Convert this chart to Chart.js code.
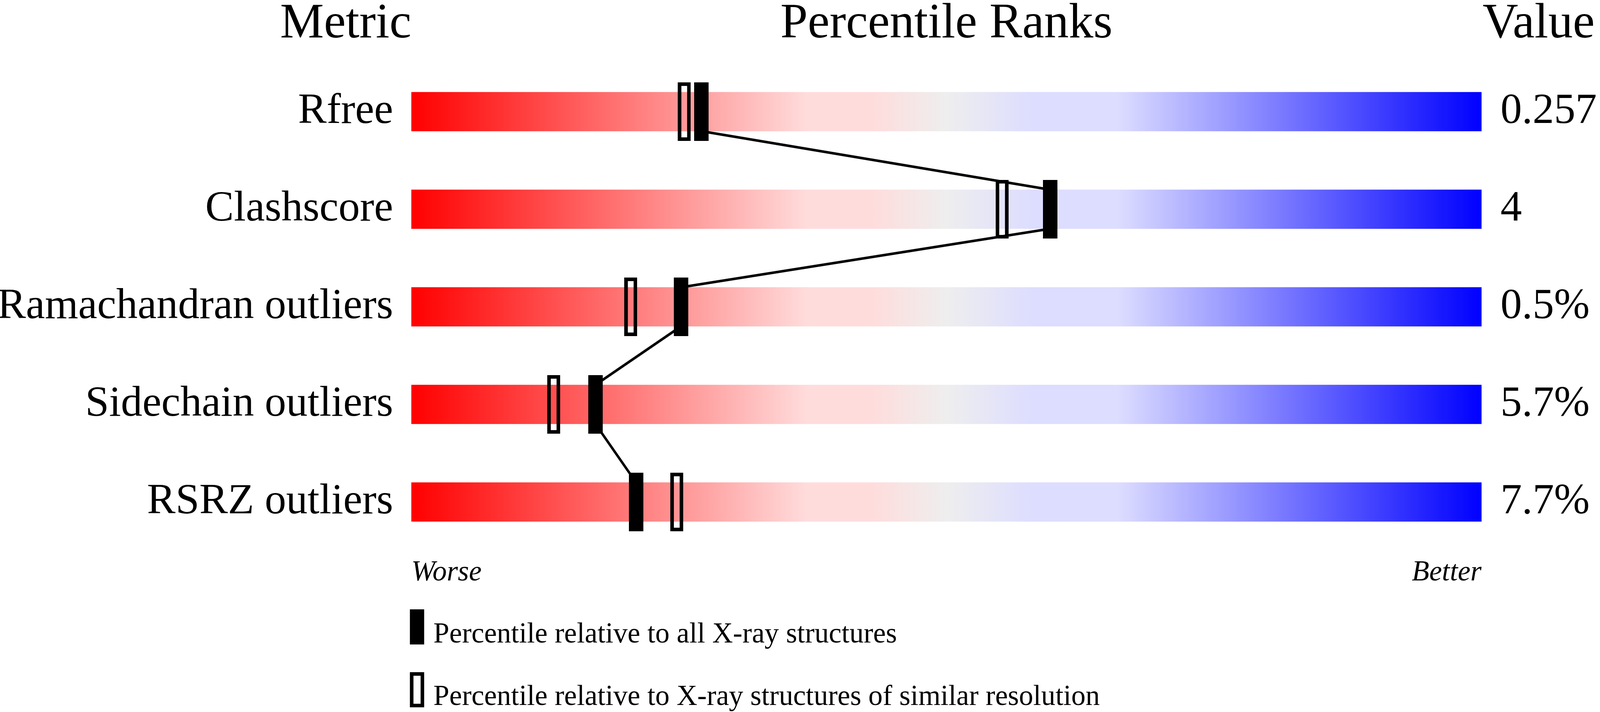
<!DOCTYPE html>
<html>
<head>
<meta charset="utf-8">
<script src="https://cdn.jsdelivr.net/npm/chart.js@4/dist/chart.umd.min.js"></script>
<style>
  html, body { margin: 0; padding: 0; background: #fff; overflow: hidden; }
  #wrap { width: 100vw; height: 100vh; position: relative; }
</style>
</head>
<body>
<div id="wrap"><canvas id="sliderChart"></canvas></div>
<script>
// Données du graphique
const metrics = ['Rfree', 'Clashscore', 'Ramachandran outliers', 'Sidechain outliers', 'RSRZ outliers'];
const valueLabels = ['0.257', '4', '0.5%', '5.7%', '7.7%'];
const pctAll = [27.1, 59.7, 25.2, 17.2, 21.0];
const pctSimilar = [25.5, 55.2, 20.5, 13.3, 24.8];
const headers = ['Metric', 'Percentile Ranks', 'Value'];
const endLabels = ['Worse', 'Better'];
const legendLabels = ['Percentile relative to all X-ray structures',
                      'Percentile relative to X-ray structures of similar resolution'];

const FONT = "'Liberation Serif', 'Times New Roman', serif";

// mesures prises sur l'image 4485 x 1824, ramenées à la fenêtre
const KX = (window.innerWidth || 4485) / 4485;
const KY = (window.innerHeight || 1824) / 1824;
function sx(v) { return v * KX; }
function sy(v) { return v * KY; }
const BAR_H = sy(100);

// Marqueurs (plein / vide)
function makeMarker(w, h, filled) {
    const c = document.createElement('canvas');
    c.width = Math.round(w); c.height = Math.round(h);
    const g = c.getContext('2d');
    if (filled) {
        g.fillStyle = '#000';
        g.fillRect(0, 0, c.width, c.height);
    } else {
        const lw = sx(10);
        g.strokeStyle = '#000';
        g.lineWidth = lw;
        g.strokeRect(lw / 2, lw / 2, c.width - lw, c.height - lw);
    }
    return c;
}
const filledMarker = makeMarker(sx(40), sy(150), true);
const openMarker = makeMarker(sx(36), sy(150), false);

function sliderGradient(ctx, area) {
    const grad = ctx.createLinearGradient(area.left, 0, area.right, 0);
    grad.addColorStop(0, '#ff0000');
    grad.addColorStop(0.37, '#ffdcdc');
    grad.addColorStop(0.43, '#ffdcdc');
    grad.addColorStop(0.5, '#eeeeee');
    grad.addColorStop(0.58, '#ddddff');
    grad.addColorStop(0.66, '#ddddff');
    grad.addColorStop(1, '#0000ff');
    return grad;
}

// Ligne entre les marqueurs pleins : du bas d'une barre au haut de la suivante,
// tracée juste avant les marqueurs pleins qui en cachent les bouts
const connectPlugin = {
    id: 'connect',
    beforeDatasetDraw(chart, args) {
        if (args.index !== 2) return;
        const ctx = chart.ctx;
        const xs = chart.scales.x, ys = chart.scales.y;
        ctx.save();
        ctx.strokeStyle = '#000';
        ctx.lineWidth = sx(7);
        ctx.lineJoin = 'round';
        ctx.beginPath();
        for (let i = 0; i < pctAll.length - 1; i++) {
            ctx.moveTo(xs.getPixelForValue(pctAll[i]), ys.getPixelForValue(i) + BAR_H / 2);
            ctx.lineTo(xs.getPixelForValue(pctAll[i + 1]), ys.getPixelForValue(i + 1) - BAR_H / 2);
        }
        ctx.stroke();
        ctx.restore();
    }
};

// Titres, Worse/Better et légende
const textPlugin = {
    id: 'texts',
    afterDraw(chart) {
        const ctx = chart.ctx;
        const a = chart.chartArea;
        ctx.save();
        ctx.fillStyle = '#000';
        ctx.strokeStyle = '#000';
        ctx.textBaseline = 'alphabetic';
        ctx.font = sx(138) + 'px ' + FONT;
        ctx.textAlign = 'right';
        ctx.fillText(headers[0], a.left, sy(96));
        ctx.textAlign = 'center';
        ctx.fillText(headers[1], (a.left + a.right) / 2, sy(96));
        ctx.textAlign = 'left';
        ctx.fillText(headers[2], a.right + sx(3), sy(96));

        ctx.font = 'italic ' + sx(80) + 'px ' + FONT;
        ctx.textAlign = 'left';
        ctx.fillText(endLabels[0], a.left, sy(1487));
        ctx.textAlign = 'right';
        ctx.fillText(endLabels[1], a.right, sy(1487));

        ctx.font = sx(80) + 'px ' + FONT;
        ctx.textAlign = 'left';
        const mx = a.left - sx(4);
        ctx.fillRect(mx, sy(1561), sx(40), sy(90));
        ctx.fillText(legendLabels[0], mx + sx(66), sy(1646));
        const lw = sx(10);
        ctx.lineWidth = lw;
        ctx.strokeRect(mx + lw / 2, sy(1722) + lw / 2, sx(40) - lw, sy(90) - lw);
        ctx.fillText(legendLabels[1], mx + sx(66), sy(1806));
        ctx.restore();
    }
};

document.addEventListener('DOMContentLoaded', function() {
    const canvas = document.getElementById('sliderChart');
    new Chart(canvas, {
        data: {
            labels: metrics,
            datasets: [
                {
                    type: 'bar',
                    indexAxis: 'y',
                    data: metrics.map(() => [0, 100]),
                    barThickness: BAR_H,
                    backgroundColor: function(c) {
                        const area = c.chart.chartArea;
                        if (!area) return '#eeeeee';
                        return sliderGradient(c.chart.ctx, area);
                    },
                    borderWidth: 0,
                    order: 3
                },
                {
                    type: 'scatter',
                    data: metrics.map((m, i) => ({ x: pctSimilar[i], y: m })),
                    pointStyle: openMarker,
                    pointRadius: 3,
                    order: 2
                },
                {
                    type: 'scatter',
                    data: metrics.map((m, i) => ({ x: pctAll[i], y: m })),
                    pointStyle: filledMarker,
                    pointRadius: 3,
                    order: 1
                }
            ]
        },
        options: {
            responsive: true,
            maintainAspectRatio: false,
            animation: false,
            layout: { padding: { top: sy(161), bottom: sy(413), left: 0, right: 0 } },
            plugins: {
                legend: { display: false },
                tooltip: { enabled: false }
            },
            scales: {
                x: {
                    type: 'linear',
                    min: 0,
                    max: 100,
                    display: false
                },
                y: {
                    type: 'category',
                    position: 'left',
                    offset: true,
                    grid: { display: false, drawTicks: false },
                    border: { display: false },
                    ticks: {
                        color: '#000',
                        padding: sx(51),
                        font: { family: FONT, size: sx(120) }
                    },
                    afterFit: function(scale) { scale.width = sx(1153); }
                },
                y2: {
                    type: 'category',
                    position: 'right',
                    labels: valueLabels,
                    offset: true,
                    grid: { display: false, drawTicks: false },
                    border: { display: false },
                    ticks: {
                        color: '#000',
                        padding: sx(53),
                        font: { family: FONT, size: sx(120) }
                    },
                    afterFit: function(scale) { scale.width = sx(332); }
                }
            }
        },
        plugins: [connectPlugin, textPlugin]
    });
});
</script>
</body>
</html>
